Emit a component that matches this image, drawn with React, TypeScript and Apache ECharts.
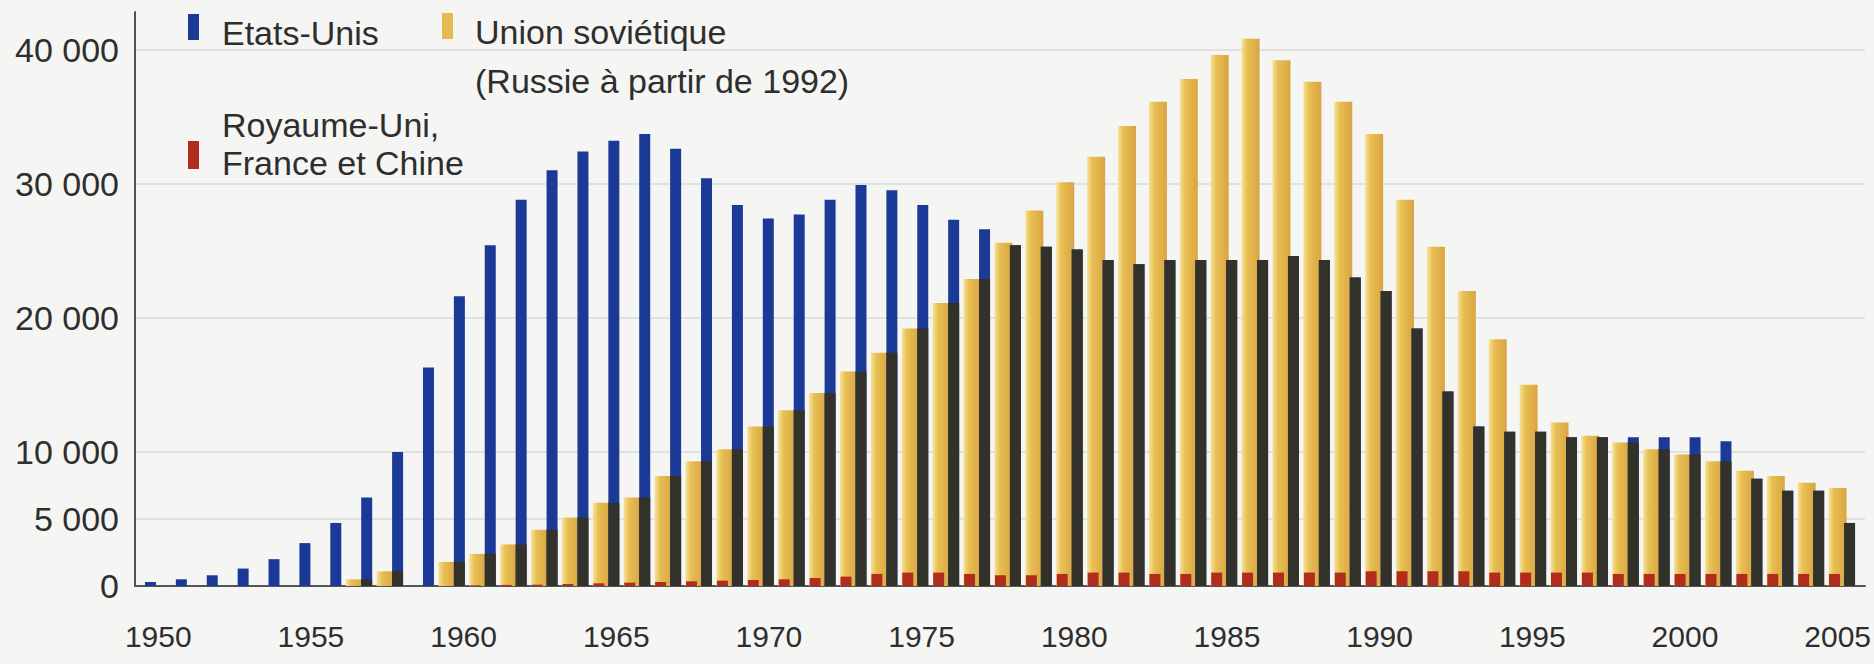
import { useEffect, useRef } from 'react';
import * as echarts from 'echarts';

const years = [
  '1950','1951','1952','1953','1954','1955','1956','1957','1958','1959',
  '1960','1961','1962','1963','1964','1965','1966','1967','1968','1969',
  '1970','1971','1972','1973','1974','1975','1976','1977','1978','1979',
  '1980','1981','1982','1983','1984','1985','1986','1987','1988','1989',
  '1990','1991','1992','1993','1994','1995','1996','1997','1998','1999',
  '2000','2001','2002','2003','2004','2005',
];

const etatsUnis = [
  300, 500, 800, 1300, 2000, 3200, 4700, 6600, 10000, 16300,
  21600, 25400, 28800, 31000, 32400, 33200, 33700, 32600, 30400, 28400,
  27400, 27700, 28800, 29900, 29500, 28400, 27300, 26600, 25400, 25300,
  25100, 24300, 24000, 24300, 24300, 24300, 24300, 24600, 24300, 23000,
  22000, 19200, 14500, 11900, 11500, 11500, 11100, 11100, 11100, 11100,
  11100, 10800, 8000, 7100, 7100, 4700,
];

const unionSovietique = [
  0, 0, 0, 0, 0, 0, 0, 500, 1100, 0,
  1800, 2400, 3100, 4200, 5100, 6200, 6600, 8200, 9300, 10200,
  11900, 13100, 14400, 16000, 17400, 19200, 21100, 22900, 25600, 28000,
  30100, 32000, 34300, 36100, 37800, 39600, 40800, 39200, 37600, 36100,
  33700, 28800, 25300, 22000, 18400, 15000, 12200, 11200, 10700, 10200,
  9800, 9300, 8600, 8200, 7700, 7300,
];

const autresPuissances = [
  0, 0, 0, 0, 0, 0, 0, 0, 0, 0,
  0, 50, 80, 100, 150, 200, 250, 300, 350, 400,
  450, 500, 600, 700, 900, 1000, 1000, 900, 800, 800,
  900, 1000, 1000, 900, 900, 1000, 1000, 1000, 1000, 1000,
  1100, 1100, 1100, 1100, 1000, 1000, 1000, 1000, 900, 900,
  900, 900, 900, 900, 900, 900,
];

const yTickLabels = [0, 5000, 10000, 20000, 30000, 40000];
const xTickLabels = ['1950','1955','1960','1965','1970','1975','1980','1985','1990','1995','2000','2005'];

const FONT = 'Liberation Sans, Arial, Helvetica, sans-serif';
const TEXT = '#2e2e2e';

// legend icons: a narrow rectangle placed inside a taller box (degenerate segments set the box)
const ICON_TOP = 'path://M0,0h11v26h-11zM0,38L0.01,38';
const ICON_LOW = 'path://M0,0L0.01,0M0,35h11v28h-11zM0,76L0.01,76';

function fmt(v: number): string {
  return String(v).replace(/\B(?=(\d{3})+(?!\d))/g, ' ');
}

export default function App() {
  const ref = useRef<HTMLDivElement>(null);

  useEffect(() => {
    if (!ref.current) return;
    const chart = echarts.init(ref.current, null, { renderer: 'svg' });
    const overlap = etatsUnis.map((v, i) => Math.min(v, unionSovietique[i]));
    const yMax = 42800;
    const grid = (left: number, right: number) => ({ left, right, top: 12, bottom: 78 });
    const hiddenX = (gridIndex: number) => ({ type: 'category', gridIndex, data: years, show: false });
    const hiddenY = (gridIndex: number) => ({ type: 'value', gridIndex, min: 0, max: yMax, show: false });
    const gridColors = [
      'rgba(0,0,0,0)', '#d9dbd8', '#d9dbd8', 'rgba(0,0,0,0)', '#d9dbd8',
      'rgba(0,0,0,0)', '#d9dbd8', 'rgba(0,0,0,0)', '#d9dbd8', 'rgba(0,0,0,0)',
    ];
    const yellow = new echarts.graphic.LinearGradient(0, 0, 1, 0, [
      { offset: 0, color: '#f6e29a' },
      { offset: 0.3, color: '#e8bf52' },
      { offset: 1, color: '#d9a443' },
    ]);
    const legendText = {
      fontSize: 34, color: TEXT, fontFamily: FONT, padding: [0, 0, 0, 18], lineHeight: 38,
    };

    chart.setOption({
      animation: false,
      backgroundColor: '#f5f6f3',
      grid: [grid(135, 9), grid(123, 21), grid(120, 24), grid(143, 21)],
      xAxis: [
        {
          type: 'category', gridIndex: 0, data: years,
          axisLine: { lineStyle: { color: '#555', width: 2 } },
          axisTick: { show: false },
          axisLabel: { show: false },
        },
        hiddenX(1), hiddenX(2),
        {
          type: 'category', gridIndex: 3, data: years,
          axisLine: { show: false }, axisTick: { show: false },
          axisLabel: {
            interval: (_i: number, v: string) => xTickLabels.includes(v),
            fontSize: 30, color: TEXT, margin: 35, fontFamily: FONT,
          },
        },
      ],
      yAxis: [
        {
          type: 'value', gridIndex: 0, min: 0, max: yMax, interval: 5000,
          axisLine: { show: true, lineStyle: { color: '#555', width: 2 } },
          axisTick: { show: false },
          axisLabel: {
            formatter: (v: number) => (yTickLabels.includes(v) ? fmt(v) : ''),
            fontSize: 34, color: TEXT, margin: 16, fontFamily: FONT,
          },
          splitLine: { show: true, showMinLine: true, showMaxLine: true, lineStyle: { color: gridColors, width: 1.5 } },
        },
        hiddenY(1), hiddenY(2), hiddenY(3),
      ],
      legend: [
        {
          data: ['Etats-Unis'], left: 188, top: 14, padding: 0, icon: ICON_TOP,
          itemWidth: 11, itemHeight: 38, selectedMode: false, textStyle: legendText,
        },
        {
          data: ['Union soviétique (Russie à partir de 1992)'], formatter: () => 'Union soviétique',
          left: 442, top: 13, padding: 0, icon: ICON_TOP, itemWidth: 11, itemHeight: 38, selectedMode: false,
          itemStyle: { color: '#e4bb50' }, textStyle: { ...legendText, padding: [0, 0, 0, 17] },
        },
        {
          data: ['Royaume-Uni, France et Chine'], formatter: () => 'Royaume-Uni,\nFrance et Chine',
          left: 188, top: 106, padding: 0, icon: ICON_LOW, itemWidth: 11, itemHeight: 76, selectedMode: false,
          textStyle: legendText,
        },
      ],
      graphic: [
        {
          type: 'text', left: 475, top: 64,
          style: { text: '(Russie à partir de 1992)', fontSize: 34, fill: TEXT, fontFamily: FONT },
        },
      ],
      series: [
        {
          name: 'Union soviétique (Russie à partir de 1992)', type: 'bar', xAxisIndex: 1, yAxisIndex: 1,
          data: unionSovietique, barWidth: 18, itemStyle: { color: yellow }, silent: true,
        },
        {
          name: 'Etats-Unis', type: 'bar', xAxisIndex: 0, yAxisIndex: 0,
          data: etatsUnis, barWidth: 11, itemStyle: { color: '#1b3a98' }, silent: true,
        },
        {
          name: 'superposition', type: 'bar', xAxisIndex: 0, yAxisIndex: 0, barGap: '-100%',
          data: overlap, barWidth: 11, itemStyle: { color: '#33322a' }, silent: true,
        },
        {
          name: 'Royaume-Uni, France et Chine', type: 'bar', xAxisIndex: 2, yAxisIndex: 2,
          data: autresPuissances, barWidth: 11, itemStyle: { color: '#b02c1c' }, silent: true,
        },
      ],
    });
    return () => chart.dispose();
  }, []);

  return (
    <div
      ref={ref}
      style={{ position: 'absolute', left: 0, top: 0, width: 1874, height: 664 }}
    />
  );
}
